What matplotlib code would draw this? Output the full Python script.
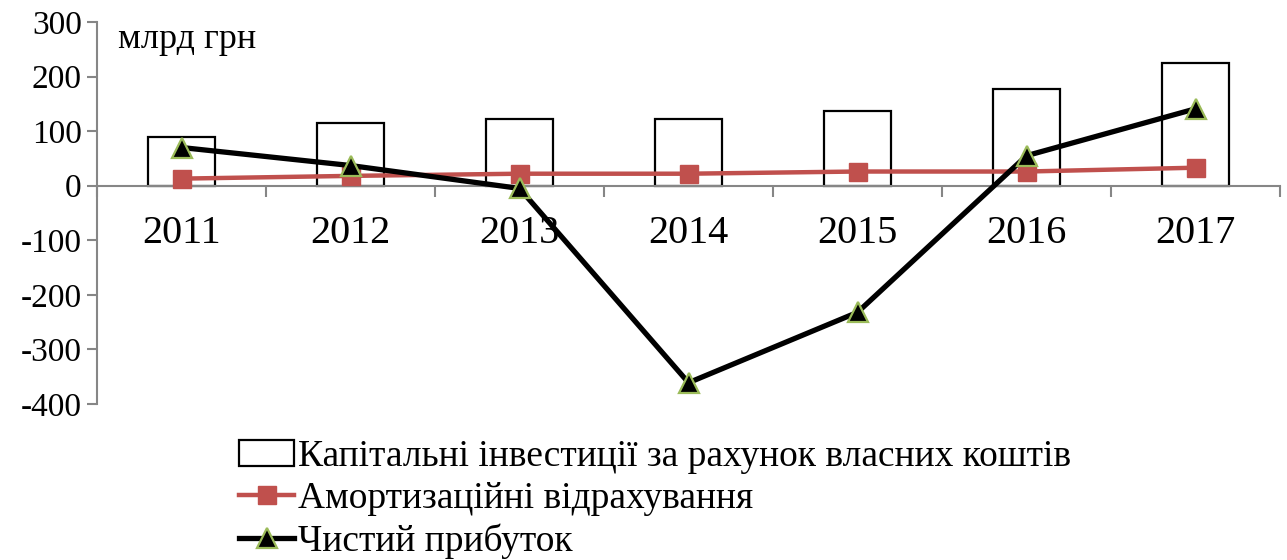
import numpy as np
import matplotlib
matplotlib.use("Agg")
import matplotlib.pyplot as plt
from matplotlib.ticker import FixedLocator

plt.rcParams['font.family'] = ['Liberation Serif', 'DejaVu Serif']
plt.rcParams['axes.unicode_minus'] = False

years = ['2011', '2012', '2013', '2014', '2015', '2016', '2017']
investments = [90, 115, 123, 123, 137, 178, 225]
depreciation = [13, 18, 22, 22, 26, 26, 33]
net_profit = [70, 37, -5, -361, -232, 55, 141]

label_inv = 'Капітальні інвестиції за рахунок власних коштів'
label_dep = 'Амортизаційні відрахування'
label_np = 'Чистий прибуток'

fig = plt.figure(figsize=(12.87, 5.6), dpi=100)
ax = fig.add_axes([0.0754, 0.2786, 0.9192, 0.6821])

x = np.arange(len(years))
gray = '#868686'

b = ax.bar(x, investments, width=0.4, color='white', edgecolor='black', linewidth=1.6, label=label_inv, zorder=2)
l1, = ax.plot(x, depreciation, color='#C0504D', linewidth=3.2, marker='s', markersize=13,
              markerfacecolor='#C0504D', markeredgecolor='#C0504D', label=label_dep, zorder=3)
l2, = ax.plot(x, net_profit, color='black', linewidth=3.8, marker='^', markersize=15,
              markerfacecolor='black', markeredgecolor='#9BBB59', markeredgewidth=1.6, label=label_np, zorder=4)

ax.set_xlim(-0.5, 6.5)
ax.set_ylim(-400, 300)
ax.set_yticks(np.arange(-400, 301, 100))

ax.spines['top'].set_visible(False)
ax.spines['right'].set_visible(False)
ax.spines['bottom'].set_position(('data', 0))
for s in ['left', 'bottom']:
    ax.spines[s].set_color(gray)
    ax.spines[s].set_linewidth(1.5)

ax.set_xticks(x)
ax.set_xticklabels(years, fontsize=29)
ax.tick_params(axis='x', which='major', length=0, pad=21)
ax.xaxis.set_minor_locator(FixedLocator(np.arange(-0.5, 6.6, 1)))
ax.tick_params(axis='x', which='minor', length=8, width=1.5, color=gray, direction='out')
ax.tick_params(axis='y', length=7, width=1.5, color=gray, labelsize=24, pad=4)

ax.text(0.018, 0.955, 'млрд грн', transform=ax.transAxes, fontsize=26, va='center', ha='left')

fig.legend(handles=[b, l1, l2], labels=[label_inv, label_dep, label_np],
           loc='upper left', bbox_to_anchor=(0.186, 0.215), frameon=False, fontsize=27,
           handlelength=1.45, handletextpad=0.1, labelspacing=0.2, borderpad=0, borderaxespad=0)

fig.savefig('out.png', dpi=100)
